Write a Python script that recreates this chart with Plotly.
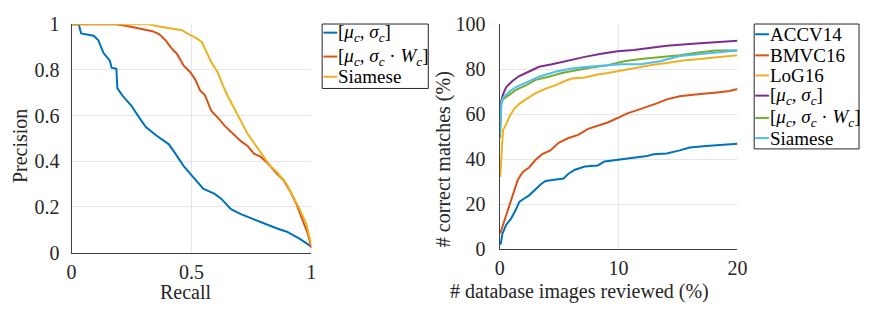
import plotly.graph_objects as go

W, H = 871, 314

# ---------------- Left: precision-recall ----------------
pr_labels = ["[<i>μ<sub>c</sub></i>, <i>σ<sub>c</sub></i>]",
             "[<i>μ<sub>c</sub></i>, <i>σ<sub>c</sub></i> · <i>W<sub>c</sub></i>]",
             "Siamese"]

rec_musig = [0.0, 0.030, 0.040, 0.092, 0.112, 0.133, 0.160, 0.167, 0.187, 0.191, 0.214, 0.249, 0.283, 0.310,
             0.351, 0.406, 0.433, 0.467, 0.501, 0.529, 0.549, 0.597, 0.624, 0.665, 0.706, 0.761, 0.816,
             0.857, 0.898, 0.952, 1.0]
prec_musig = [1.0, 1.0, 0.96, 0.95, 0.93, 0.875, 0.84, 0.81, 0.805, 0.72, 0.685, 0.644, 0.59, 0.55,
              0.515, 0.474, 0.433, 0.38, 0.338, 0.304, 0.28, 0.257, 0.236, 0.19, 0.168, 0.145, 0.121,
              0.105, 0.091, 0.06, 0.026]

rec_musigw = [0.0, 0.187, 0.242, 0.296, 0.337, 0.365, 0.392, 0.413, 0.44, 0.467, 0.495, 0.515, 0.536, 0.556,
              0.583, 0.611, 0.638, 0.679, 0.706, 0.734, 0.761, 0.788, 0.816, 0.857, 0.884, 0.911,
              0.939, 0.966, 0.986, 1.0]
prec_musigw = [1.0, 1.0, 0.99, 0.977, 0.97, 0.957, 0.93, 0.90, 0.87, 0.82, 0.79, 0.76, 0.71, 0.69,
               0.62, 0.59, 0.556, 0.515, 0.488, 0.467, 0.433, 0.42, 0.393, 0.345, 0.318, 0.27,
               0.21, 0.135, 0.08, 0.02]

rec_siam = [0.0, 0.324, 0.365, 0.406, 0.460, 0.488, 0.515, 0.543, 0.563, 0.583, 0.611, 0.631, 0.652, 0.679,
            0.706, 0.734, 0.761, 0.802, 0.829, 0.857, 0.898, 0.925, 0.952, 0.980, 1.0]
prec_siam = [1.0, 1.0, 0.99, 0.984, 0.974, 0.957, 0.943, 0.923, 0.88, 0.834, 0.787, 0.732, 0.685, 0.63,
             0.576, 0.52, 0.48, 0.42, 0.379, 0.352, 0.298, 0.243, 0.189, 0.121, 0.033]

# ---------------- Right: correct matches vs reviewed ----------------
cmc_labels = ["ACCV14", "BMVC16", "LoG16",
              "[<i>μ<sub>c</sub></i>, <i>σ<sub>c</sub></i>]",
              "[<i>μ<sub>c</sub></i>, <i>σ<sub>c</sub></i> · <i>W<sub>c</sub></i>]",
              "Siamese"]

x_accv = [0.08, 0.22, 0.55, 0.96, 1.38, 1.65, 2.07, 2.48, 3.03, 3.44, 3.86, 4.68, 5.37, 5.79, 6.34, 7.16,
          8.26, 8.82, 9.92, 11.29, 12.4, 12.95, 14.05, 15.15, 15.98, 17.36, 18.73, 20.0]
y_accv = [2.0, 6.6, 10.8, 13.5, 17.7, 21.0, 22.5, 23.9, 26.6, 28.7, 30.3, 30.8, 31.4, 33.5, 35.3, 36.7,
          37.2, 39.0, 39.7, 40.4, 41.4, 42.2, 42.5, 43.9, 45.2, 45.8, 46.3, 46.9]

x_bmvc = [0.05, 0.28, 0.55, 0.83, 1.10, 1.52, 1.93, 2.48, 3.03, 3.58, 4.27, 4.96, 5.79, 6.61, 7.44, 8.26,
          9.09, 9.92, 10.74, 11.57, 12.4, 13.22, 14.05, 15.15, 16.25, 17.36, 18.46, 19.34, 20.0]
y_bmvc = [6.9, 10.8, 14.9, 19.0, 24.6, 30.8, 34.2, 36.3, 39.7, 42.2, 43.9, 47.3, 49.4, 50.8, 53.5, 54.9,
          56.3, 58.3, 60.4, 61.8, 63.2, 64.8, 66.6, 68.0, 68.7, 69.4, 69.8, 70.3, 71.2]

x_log = [0.05, 0.14, 0.28, 0.55, 0.83, 1.24, 1.65, 2.2, 3.03, 3.86, 4.68, 5.23, 6.06, 7.16, 8.26, 9.09,
         10.19, 11.29, 12.67, 14.05, 15.43, 16.8, 18.46, 20.0]
y_log = [32.1, 42.5, 52.8, 55.6, 59.0, 62.5, 64.6, 66.6, 69.4, 71.4, 72.8, 74.2, 75.9, 76.3, 77.7, 78.3,
         79.4, 80.4, 81.8, 82.8, 83.9, 84.6, 85.5, 86.2]

x_musig = [0.03, 0.14, 0.28, 0.55, 1.10, 1.65, 2.48, 3.31, 4.41, 5.79, 7.16, 8.54, 9.92, 11.29, 12.67,
           14.05, 16.25, 18.18, 20.0]
y_musig = [60.4, 65.9, 68.7, 72.1, 74.9, 77.0, 79.0, 81.1, 82.2, 83.9, 85.5, 86.9, 88.0, 88.6, 89.7,
           90.5, 91.4, 92.1, 92.7]

x_musigw = [0.03, 0.14, 0.28, 0.83, 1.38, 2.2, 3.03, 4.13, 5.23, 6.34, 7.71, 9.09, 10.47, 11.85, 13.5,
            15.15, 16.53, 18.18, 20.0]
y_musigw = [49.4, 64.6, 66.6, 68.7, 70.8, 72.8, 75.3, 76.7, 78.3, 79.4, 80.8, 81.8, 83.6, 84.6, 85.5,
            86.2, 87.3, 88.3, 88.3]

x_siam = [0.03, 0.14, 0.28, 0.83, 1.38, 2.2, 3.31, 4.68, 6.06, 7.44, 8.82, 10.19, 11.85, 13.5, 15.15,
          16.8, 18.46, 20.0]
y_siam = [50.8, 64.6, 67.3, 70.1, 72.1, 74.2, 76.7, 78.9, 80.3, 81.1, 81.8, 82.2, 82.2, 83.6, 85.9,
          86.9, 87.6, 88.3]

C_BLUE, C_ORANGE, C_YELLOW = "#0072BD", "#D95319", "#EDB120"
C_PURPLE, C_GREEN, C_CYAN = "#7E2F8E", "#77AC30", "#4DBEEE"

pr_series = [(rec_musig, prec_musig, C_BLUE), (rec_musigw, prec_musigw, C_ORANGE), (rec_siam, prec_siam, C_YELLOW)]
cmc_series = [(x_accv, y_accv, C_BLUE), (x_bmvc, y_bmvc, C_ORANGE), (x_log, y_log, C_YELLOW),
              (x_musig, y_musig, C_PURPLE), (x_musigw, y_musigw, C_GREEN), (x_siam, y_siam, C_CYAN)]

FONT = "Liberation Serif, Times New Roman, DejaVu Serif, serif"
fig = go.Figure()
for (xs, ys, c), name in zip(pr_series, pr_labels):
    fig.add_trace(go.Scatter(x=xs, y=ys, mode="lines", line=dict(color=c, width=2), name=name,
                             xaxis="x", yaxis="y", showlegend=False))
for (xs, ys, c), name in zip(cmc_series, cmc_labels):
    fig.add_trace(go.Scatter(x=xs, y=ys, mode="lines", line=dict(color=c, width=2), name=name,
                             xaxis="x2", yaxis="y2", showlegend=False))

def px(x): return x / W
def py(y): return 1 - y / H

axis_common = dict(showgrid=True, gridcolor="#E6E6E6", gridwidth=1, showline=True, linecolor="#404040",
                   linewidth=1.2, zeroline=False, ticks="outside", tickcolor="rgba(0,0,0,0)",
                   tickfont=dict(family=FONT, size=20, color="#262626"))

fig.update_layout(
    width=W, height=H, autosize=False, margin=dict(l=0, r=0, t=0, b=0),
    paper_bgcolor="white", plot_bgcolor="white",
    font=dict(family=FONT, size=20, color="#262626"),
    xaxis=dict(domain=[px(67.7), px(311.7)], range=[0, 1], tickvals=[0, 0.5, 1], ticktext=["0", "0.5", "1"],
               anchor="y", ticklen=1, **axis_common),
    yaxis=dict(domain=[py(259.7), py(14.3)], range=[0, 1], tickvals=[0, 0.2, 0.4, 0.6, 0.8, 1],
               ticktext=["0", "0.2", "0.4", "0.6", "0.8", "1"], anchor="x", ticklen=7, **axis_common),
    xaxis2=dict(domain=[px(503.3), px(745.3)], range=[0, 20], tickvals=[0, 10, 20], anchor="y2", ticklen=1,
                **axis_common),
    yaxis2=dict(domain=[py(256), py(14.3)], range=[0, 100], tickvals=[0, 20, 40, 60, 80, 100], anchor="x2",
                ticklen=9, **axis_common),
)

annots = [
    dict(text="Recall", x=px(184), y=py(302), textangle=0),
    dict(text="Precision", x=px(15.5), y=py(145), textangle=-90),
    dict(text="# database images reviewed (%)", x=px(585), y=py(302), textangle=0),
    dict(text="# correct matches (%)", x=px(447), y=py(159), textangle=-90),
]
for a in annots:
    fig.add_annotation(xref="paper", yref="paper", xanchor="center", yanchor="middle", showarrow=False,
                       font=dict(family=FONT, size=20, color="#262626"), **a)

# manual legends (MATLAB style short line samples)
def legend(box, rows, labels, colors, lx0, lx1, tx):
    x0, y0, x1, y1 = box
    fig.add_shape(type="rect", xref="paper", yref="paper", x0=px(x0), x1=px(x1), y0=py(y1), y1=py(y0),
                  line=dict(color="#262626", width=1), fillcolor="white", layer="above")
    for yy, lab, col in zip(rows, labels, colors):
        fig.add_shape(type="line", xref="paper", yref="paper", x0=px(lx0), x1=px(lx1), y0=py(yy), y1=py(yy),
                      line=dict(color=col, width=2), layer="above")
        fig.add_annotation(xref="paper", yref="paper", x=px(tx), y=py(yy), xanchor="left", yanchor="middle",
                           text=lab, showarrow=False, font=dict(family=FONT, size=19, color="#000000"))

legend((322.7, 14, 430.7, 83.3), [23.3, 49, 70.7], pr_labels, [C_BLUE, C_ORANGE, C_YELLOW], 324, 338, 337)
legend((762.3, 14, 869, 148.3), [25, 47.7, 69.3, 91, 115, 136.7], cmc_labels,
       [C_BLUE, C_ORANGE, C_YELLOW, C_PURPLE, C_GREEN, C_CYAN], 763.3, 777.3, 776.3)

fig.write_html("out.html", config={"displayModeBar": False},
               post_script="document.body.style.margin='0px';document.body.style.padding='0px';")
